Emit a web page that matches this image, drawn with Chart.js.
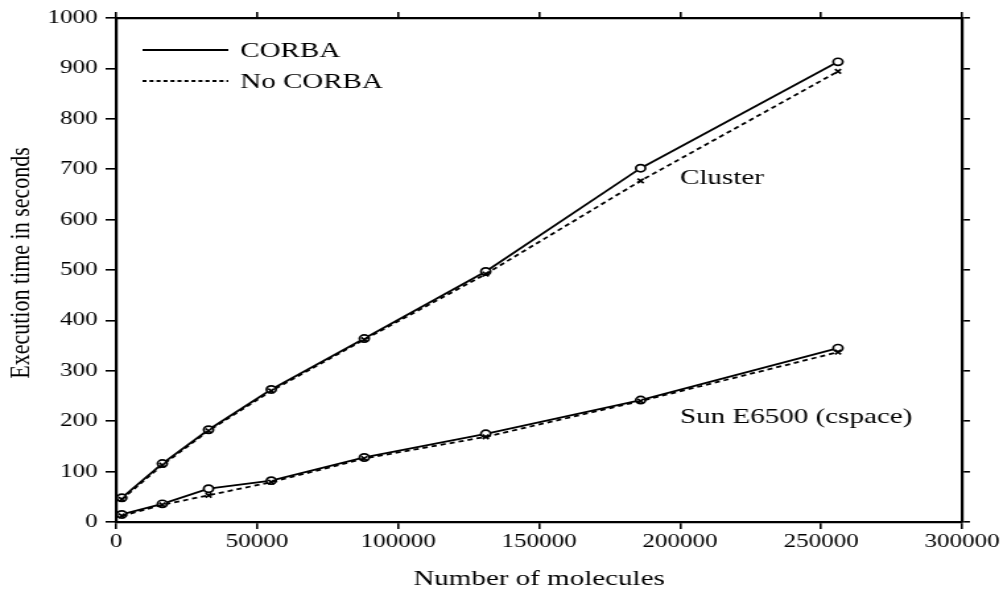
<!DOCTYPE html>
<html lang="en">
<head>
  <meta charset="UTF-8" />
  <title>Execution time vs number of molecules</title>
  <script src="https://cdn.jsdelivr.net/npm/chart.js"></script>
  <style>
    html, body {
      margin: 0;
      padding: 0;
      background: #fff;
      overflow: hidden;
    }
    /* the original figure is stretched sideways, so draw narrow and widen it */
    .wrap {
      width: 760px;
      height: 592px;
      transform: scaleX(1.3197);
      transform-origin: 0 0;
    }
  </style>
</head>
<body>
  <div class="wrap"><canvas id="chart"></canvas></div>

  <script>
    // Data
    const molecules = [2000, 16384, 32768, 55000, 88000, 131072, 186000, 256000];
    const clusterCorba = [48, 116, 183, 263, 364, 497, 702, 913];
    const clusterNoCorba = [45, 113, 181, 260, 362, 492, 677, 894];
    const sunCorba = [15, 36, 66, 82, 128, 175, 242, 345];
    const sunNoCorba = [12, 34, 53, 79, 126, 169, 240, 337];

    const xTicks = [0, 50000, 100000, 150000, 200000, 250000, 300000];
    const yTicks = [0, 100, 200, 300, 400, 500, 600, 700, 800, 900, 1000];

    const seriesLabels = ['CORBA', 'No CORBA'];
    const groupLabels = ['Cluster', 'Sun E6500 (cspace)'];
    const xTitle = 'Number of molecules';
    const yTitle = 'Execution time in seconds';

    const serif = '"Liberation Serif", "Times New Roman", serif';
    const tickFont = { family: serif, size: 19 };

    const points = ys => molecules.map((x, i) => ({ x: x, y: ys[i] }));

    const solidStyle = {
      showLine: true,
      borderColor: '#000',
      borderWidth: 1.8,
      pointStyle: 'circle',
      pointRadius: 3.6,
      pointBackgroundColor: '#fff',
      pointBorderColor: '#000',
      pointBorderWidth: 1.7
    };
    const dashedStyle = {
      showLine: true,
      borderColor: '#000',
      borderWidth: 1.8,
      borderDash: [4, 3],
      pointStyle: 'crossRot',
      pointRadius: 3.2,
      pointBorderColor: '#000',
      pointBorderWidth: 1.7
    };

    function frameScale(pos, min, max, ticks, size, showLabels) {
      const horizontal = pos === 'top' || pos === 'bottom';
      return {
        type: 'linear',
        position: pos,
        min: min,
        max: max,
        afterBuildTicks: s => { s.ticks = ticks.map(v => ({ value: v })); },
        afterFit: s => {
          if (horizontal) s.height = size; else s.width = size;
        },
        border: { display: true, color: '#000', width: 2.2 },
        grid: {
          drawOnChartArea: false,
          drawTicks: true,
          tickLength: showLabels ? (horizontal ? 7 : 8) : 6,
          color: '#000',
          lineWidth: 1.6
        },
        ticks: {
          display: showLabels,
          color: '#000',
          font: tickFont,
          padding: horizontal ? 2 : 6,
          maxRotation: 0,
          autoSkip: false,
          callback: v => String(v)
        }
      };
    }

    // legend, curve labels and axis titles drawn inside the figure
    const overlay = {
      id: 'overlay',
      afterDraw(chart) {
        const ctx = chart.ctx;
        const area = chart.chartArea;
        const xs = chart.scales.x;
        const ys = chart.scales.y;
        ctx.save();
        ctx.fillStyle = '#000';
        ctx.strokeStyle = '#000';
        ctx.font = '22px ' + serif;
        ctx.textBaseline = 'middle';
        ctx.textAlign = 'left';

        // legend
        const rows = [50, 81];
        seriesLabels.forEach((label, i) => {
          ctx.beginPath();
          ctx.lineWidth = 1.8;
          ctx.setLineDash(i === 0 ? [] : [3, 2.3]);
          ctx.moveTo(108, rows[i]);
          ctx.lineTo(173, rows[i]);
          ctx.stroke();
          ctx.setLineDash([]);
          ctx.fillText(label, 182, rows[i] + 1);
        });

        // curve labels
        ctx.fillText(groupLabels[0], xs.getPixelForValue(200000), ys.getPixelForValue(683));
        ctx.fillText(groupLabels[1], xs.getPixelForValue(200000), ys.getPixelForValue(208));

        // axis titles
        ctx.textAlign = 'center';
        ctx.fillText(xTitle, (area.left + area.right) / 2, 579);
        ctx.translate(16, 263);
        ctx.rotate(-Math.PI / 2);
        ctx.fillText(yTitle, 0, 0);
        ctx.restore();
      }
    };

    const ctx = document.getElementById('chart').getContext('2d');
    const chart = new Chart(ctx, {
      type: 'scatter',
      data: {
        datasets: [
          Object.assign({ label: 'Cluster No CORBA', data: points(clusterNoCorba) }, dashedStyle),
          Object.assign({ label: 'Sun No CORBA', data: points(sunNoCorba) }, dashedStyle),
          Object.assign({ label: 'Cluster CORBA', data: points(clusterCorba) }, solidStyle),
          Object.assign({ label: 'Sun CORBA', data: points(sunCorba) }, solidStyle)
        ]
      },
      options: {
        responsive: true,
        maintainAspectRatio: false,
        animation: false,
        layout: { padding: 0 },
        scales: {
          x: frameScale('bottom', 0, 300000, xTicks, 70, true),
          x2: frameScale('top', 0, 300000, xTicks, 18, false),
          y: frameScale('left', 0, 1000, yTicks, 88, true),
          y2: frameScale('right', 0, 1000, yTicks, 31, false)
        },
        plugins: {
          legend: { display: false },
          tooltip: { enabled: false }
        }
      },
      plugins: [overlay]
    });
  </script>
</body>
</html>
